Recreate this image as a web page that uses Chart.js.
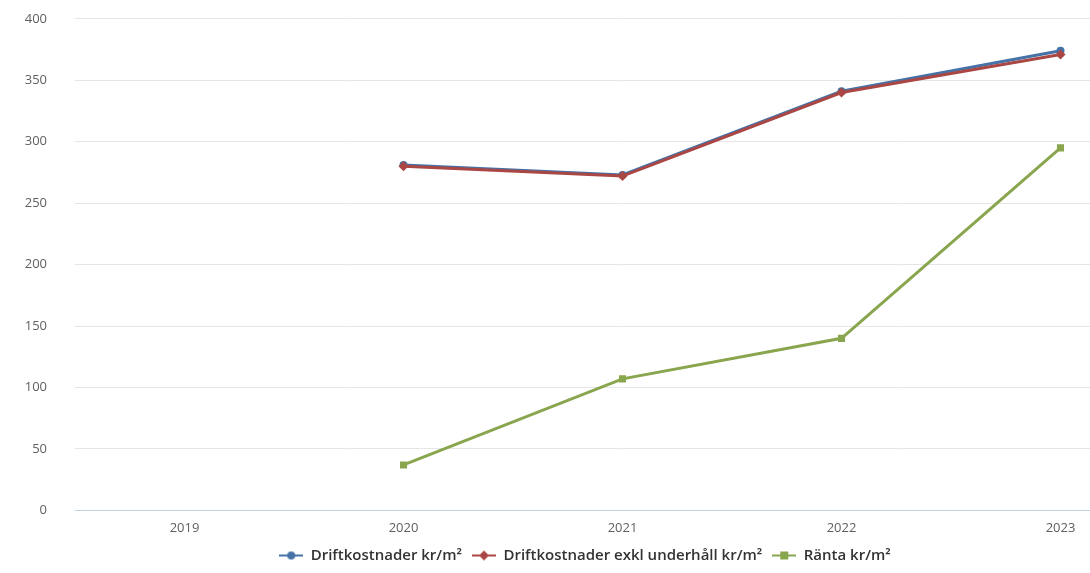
<!DOCTYPE html>
<html>
<head>
<meta charset="utf-8">
<script src="https://cdn.jsdelivr.net/npm/chart.js@4"></script>
<style>
  html, body { margin: 0; padding: 0; background: #fff; overflow: hidden; }
  #wrap { width: 1190px; height: 590px; margin-top: -17px; }
</style>
</head>
<body>
<div id="wrap"><canvas id="line-chart"></canvas></div>
<script>
const years = ["2019", "2020", "2021", "2022", "2023"];
const drift = [null, 281, 273, 341, 374];
const driftExkl = [null, 280, 272, 340, 371];
const ranta = [null, 37, 107, 140, 295];
const yTicks = [0, 50, 100, 150, 200, 250, 300, 350, 400];

const colors = ["#4572A7", "#AA4643", "#89A54E"];
const styles = ["circle", "rectRot", "rect"];

// small line + marker picture for the legend, like the original
function legendIcon(color, style) {
  const c = document.createElement("canvas");
  c.width = 24; c.height = 12;
  const ctx = c.getContext("2d");
  ctx.strokeStyle = color;
  ctx.fillStyle = color;
  ctx.lineWidth = 2;
  ctx.beginPath(); ctx.moveTo(0, 6); ctx.lineTo(24, 6); ctx.stroke();
  ctx.beginPath();
  if (style === "circle") ctx.arc(12, 6, 4, 0, Math.PI * 2);
  else if (style === "rectRot") { ctx.moveTo(12, 1); ctx.lineTo(17, 6); ctx.lineTo(12, 11); ctx.lineTo(7, 6); ctx.closePath(); }
  else ctx.rect(8, 2, 8, 8);
  ctx.fill();
  return c;
}

function series(label, data, i, order) {
  return {
    label: label,
    data: data,
    order: order,
    borderColor: colors[i],
    backgroundColor: colors[i],
    borderWidth: 3,
    pointStyle: styles[i],
    pointRadius: i === 0 ? 4 : 5,
    pointBorderWidth: 0,
    fill: false,
    tension: 0
  };
}

new Chart(document.getElementById("line-chart"), {
  type: 'line',
  data: {
    labels: years,
    datasets: [
      series("Driftkostnader kr/m²", drift, 0, 3),
      series("Driftkostnader exkl underhåll kr/m²", driftExkl, 1, 1),
      series("Ränta kr/m²", ranta, 2, 2)
    ]
  },
  options: {
    responsive: true,
    maintainAspectRatio: false,
    animation: false,
    layout: { padding: { top: 0, right: 20, bottom: 0, left: 0 } },
    scales: {
      x: {
        offset: true,
        grid: { display: false },
        border: { display: true, color: "#C0D0E0" },
        ticks: { color: "#606060", padding: 2, font: { family: "Open Sans", size: 13 } }
      },
      y: {
        min: 0,
        max: 400,
        afterBuildTicks: (s) => { s.ticks = yTicks.map(v => ({ value: v })); },
        afterFit: (s) => { s.width = 75; },
        grid: { color: "#E6E6E6", drawTicks: false },
        border: { display: false },
        ticks: { color: "#606060", padding: 28, font: { family: "Open Sans", size: 13 } }
      }
    },
    plugins: {
      tooltip: { enabled: false },
      legend: {
        position: 'bottom',
        labels: {
          usePointStyle: true,
          pointStyleWidth: 24,
          padding: 10,
          color: "#333",
          font: { family: "Open Sans", size: 15, weight: "600" },
          generateLabels: (chart) => chart.data.datasets.map((d, i) => ({
            text: d.label,
            pointStyle: legendIcon(colors[i], styles[i]),
            fillStyle: colors[i],
            strokeStyle: colors[i],
            lineWidth: 0,
            fontColor: "#333",
            datasetIndex: i,
            hidden: false
          }))
        }
      }
    }
  }
});
</script>
</body>
</html>
